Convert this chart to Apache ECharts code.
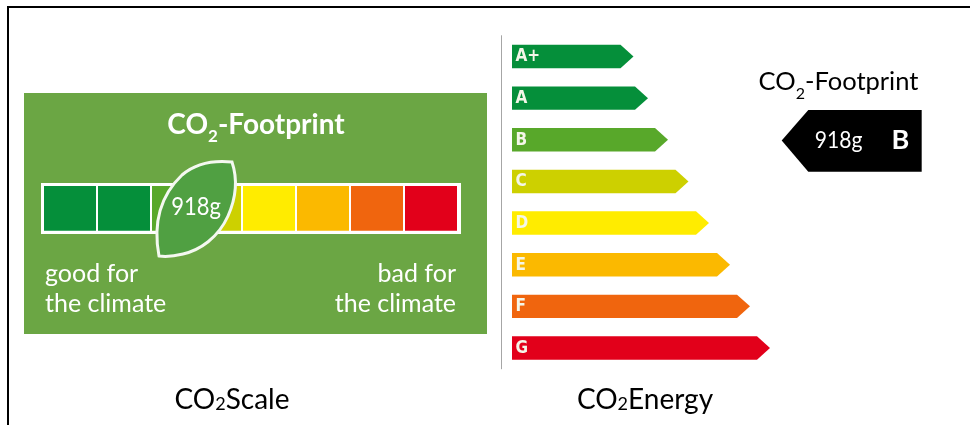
<!DOCTYPE html>
<html><head><meta charset="utf-8">
<script src="https://cdn.jsdelivr.net/npm/echarts@6/dist/echarts.min.js"></script>
<style>html,body{margin:0;padding:0;background:#fff}#c{width:970px;height:425px}</style></head>
<body><div id="c"></div>
<script>
// Data
const grades = ['A+','A','B','C','D','E','F','G'];
const energyLengths = [121.5,136,156,176.5,197,218,238,258];
const scaleBandStart = [0,54,108,152,199,253,307,361];
const scaleBandEnd   = [52,106,152,197,251,305,359,413];
const gradeColors = ['#058F3A','#058F3A','#58A82A','#CDD000','#FFEC00','#FBB900','#F0650E','#E2001A'];
const footprintValue = '918g';
const footprintGrade = 'B';
const footprintTitle = ['CO','2','-Footprint'];
const goodLabel = 'good for\nthe climate';
const badLabel = 'bad for\nthe climate';
const captionScale = ['CO','2','Scale'];
const captionEnergy = ['CO','2','Energy'];

const HAND = '"Lato","Open Sans",sans-serif';
const CAP = 'Lato,"Open Sans",sans-serif';
function subText(arr){return '{a|'+arr[0]+'}{s|'+arr[1]+'}{a|'+arr[2]+'}';}
function richOf(size,subSize,color,off,weight){return {
  a:{fontFamily:HAND,fontSize:size,fill:color,fontWeight:weight||'normal',verticalAlign:'middle'},
  s:{fontFamily:HAND,fontSize:subSize,fill:color,padding:[off,0,0,0],fontWeight:weight||'normal'}};}

const chart = echarts.init(document.getElementById('c'),null,{renderer:'canvas'});
const option = {
  animation:false,
  backgroundColor:'#fff',
  grid:[
    {left:501.5,top:35.7,width:268.5,height:333.1},
    {left:44,top:186,width:413,height:44.7}
  ],
  xAxis:[
    {gridIndex:0,type:'value',min:-10.5,max:258,show:false},
    {gridIndex:1,type:'value',min:0,max:413,show:false}
  ],
  yAxis:[
    {gridIndex:0,type:'category',data:grades,inverse:true,
     axisLine:{show:true,onZero:false,lineStyle:{color:'#a6a6a6',width:1}},
     axisTick:{show:false},axisLabel:{show:false},splitLine:{show:false}},
    {gridIndex:1,type:'value',min:0,max:1,show:false}
  ],
  graphic:{elements:[
    {type:'polyline',z:-5,silent:true,shape:{points:[[8,425],[8,7],[970,7]]},style:{stroke:'#000',lineWidth:2,fill:null}},
    {type:'rect',z:-4,silent:true,shape:{x:24,y:93,width:463,height:241},style:{fill:'#6BA644'}},
    {type:'rect',z:-3,silent:true,shape:{x:41,y:183,width:420,height:51},style:{fill:'#fff'}},
    {type:'text',z:21,silent:true,x:256,y:125,style:{text:subText(footprintTitle),align:'center',verticalAlign:'middle',rich:richOf(28,17,'#fff',24,'bold')}},
    {type:'text',z:21,silent:true,x:45,y:289,style:{text:goodLabel,fill:'#fff',fontFamily:HAND,fontSize:25,lineHeight:30.5,align:'left',verticalAlign:'middle'}},
    {type:'text',z:21,silent:true,x:456,y:289,style:{text:badLabel,fill:'#fff',fontFamily:HAND,fontSize:25,lineHeight:30.5,align:'right',verticalAlign:'middle'}},
    {type:'text',z:21,silent:true,x:838.5,y:82,style:{text:subText(footprintTitle),align:'center',verticalAlign:'middle',rich:richOf(25.5,16,'#000',24)}},
    {type:'polygon',z:5,silent:true,shape:{points:[[781.7,140.5],[808.3,110],[921.7,110],[921.7,171.7],[808.3,171.7]]},style:{fill:'#000'}},
    {type:'text',z:21,silent:true,x:838.5,y:140,scaleX:0.88,style:{text:footprintValue,fill:'#fff',fontFamily:HAND,fontSize:24,align:'center',verticalAlign:'middle'}},
    {type:'text',z:21,silent:true,x:900.5,y:140,style:{text:footprintGrade,fill:'#fff',fontFamily:HAND,fontWeight:'bold',fontSize:27,align:'center',verticalAlign:'middle'}},
    {type:'text',z:21,silent:true,x:232,y:400,style:{text:subText(captionScale),align:'center',verticalAlign:'middle',rich:{
      a:{fontFamily:CAP,fontSize:28,fill:'#000'},s:{fontFamily:CAP,fontSize:18,fill:'#000',padding:[9,0,0,0]}}}},
    {type:'text',z:21,silent:true,x:645,y:400,style:{text:subText(captionEnergy),align:'center',verticalAlign:'middle',rich:{
      a:{fontFamily:CAP,fontSize:28,fill:'#000'},s:{fontFamily:CAP,fontSize:18,fill:'#000',padding:[9,0,0,0]}}}}
  ]},
  series:[
    {
      type:'custom',xAxisIndex:0,yAxisIndex:0,z:4,
      data:grades.map((g,i)=>[energyLengths[i],i,g]),
      encode:{x:0,y:1},
      renderItem(params,api){
        const end=api.coord([api.value(0),api.value(1)]);
        const start=api.coord([0,api.value(1)]);
        const h=23.4, head=13;
        const i=params.dataIndex;
        return {type:'group',children:[
          {type:'polygon',shape:{points:[
            [start[0],end[1]-h/2],[end[0]-head,end[1]-h/2],[end[0],end[1]],
            [end[0]-head,end[1]+h/2],[start[0],end[1]+h/2]]},
            style:{fill:gradeColors[i]}},
          {type:'text',x:start[0]+3.5,y:end[1]+0.5,style:{text:grades[i],fill:'#F4F6E8',
            fontFamily:'"Liberation Sans Narrow","DejaVu Sans Condensed",sans-serif',fontWeight:'bold',fontSize:17,align:'left',verticalAlign:'middle'}}
        ]};
      }
    },
    {
      type:'custom',xAxisIndex:1,yAxisIndex:1,z:4,
      data:grades.map((g,i)=>[scaleBandStart[i],scaleBandEnd[i]]),
      encode:{x:[0,1]},
      renderItem(params,api){
        const a=api.coord([api.value(0),1]), b=api.coord([api.value(1),0]);
        return {type:'rect',shape:{x:a[0],y:a[1],width:b[0]-a[0],height:b[1]-a[1]},
          style:{fill:gradeColors[params.dataIndex]}};
      }
    },
    {
      type:'custom',coordinateSystem:'none',z:10,silent:true,
      data:[[footprintValue]],
      renderItem(){
        return {type:'group',children:[
          {type:'path',shape:{pathData:'M159,256 C153,224 160,196 182,175 C196,163 212,160 232,162 C238,180 236,198 228,216 C218,238 200,250 183,254 C175,256 167,257 159,256 Z'},
           style:{fill:'#50A042',stroke:'#F4F8F0',lineWidth:3}},
          {type:'text',x:196,y:207,scaleX:0.88,style:{text:footprintValue,fill:'#fff',fontFamily:HAND,fontSize:25,align:'center',verticalAlign:'middle'}}
        ]};
      }
    }
  ]
};
chart.setOption(option);
</script></body></html>
